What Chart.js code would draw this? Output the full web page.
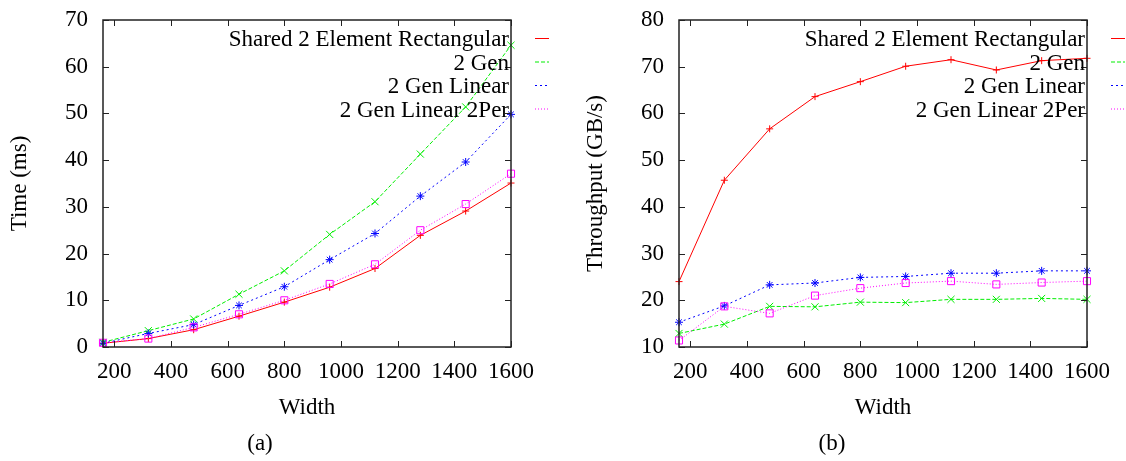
<!DOCTYPE html>
<html>
<head>
<meta charset="utf-8">
<script src="https://cdn.jsdelivr.net/npm/chart.js@4.4.1/dist/chart.umd.min.js"></script>
<style>
  body { margin: 0; background: #fff; }
  #wrap { position: relative; width: 1126px; height: 461px; }
  canvas { position: absolute; top: 0; }
  .cap { position: absolute; top: 430px; width: 100px; text-align: center;
         font: 23px "Liberation Serif", "DejaVu Serif", serif; line-height: 26px; }
</style>
</head>
<body>
<div id="wrap">
  <canvas id="timeChart" width="560" height="461" style="left:0"></canvas>
  <canvas id="tputChart" width="566" height="461" style="left:560px"></canvas>
  <div class="cap" style="left:210px">(a)</div>
  <div class="cap" style="left:782px">(b)</div>
</div>
<script>
var widths = [160, 320, 480, 640, 800, 960, 1120, 1280, 1440, 1600];
var xTickValues = [200, 400, 600, 800, 1000, 1200, 1400, 1600];
var seriesNames = ["Shared 2 Element Rectangular", "2 Gen", "2 Gen Linear", "2 Gen Linear 2Per"];

// (a) time in ms
var timeShared = [0.8, 1.8, 3.7, 6.6, 9.6, 12.8, 16.8, 23.9, 29.1, 35.1];
var time2Gen = [1.0, 3.5, 6.0, 11.3, 16.3, 24.1, 31.1, 41.3, 51.4, 64.6];
var time2GenLinear = [0.8, 2.9, 4.8, 8.9, 12.9, 18.7, 24.3, 32.3, 39.6, 49.8];
var time2GenLinear2Per = [0.9, 1.8, 4.2, 7.0, 10.0, 13.5, 17.7, 25.0, 30.6, 37.1];

// (b) throughput in GB/s
var tputShared = [24.0, 45.7, 56.7, 63.6, 66.8, 70.1, 71.5, 69.3, 71.3, 71.8];
var tput2Gen = [12.9, 14.9, 18.7, 18.6, 19.6, 19.5, 20.2, 20.2, 20.4, 20.2];
var tput2GenLinear = [15.3, 18.8, 23.3, 23.7, 24.9, 25.1, 25.8, 25.8, 26.3, 26.3];
var tput2GenLinear2Per = [11.4, 18.7, 17.2, 21.0, 22.6, 23.7, 24.1, 23.4, 23.8, 24.1];

var timeTicks = [0, 10, 20, 30, 40, 50, 60, 70];
var tputTicks = [10, 20, 30, 40, 50, 60, 70, 80];

var serif = '"Liberation Serif", "DejaVu Serif", serif';

function pts(vals) {
    return vals.map(function(v, i) { return { x: widths[i], y: v }; });
}

function makeSets(a, b, c, d) {
    return [{
        label: seriesNames[0], data: pts(a), borderColor: "#ff0000", borderWidth: 1,
        pointStyle: "cross", pointRadius: 3.5, order: 4
    }, {
        label: seriesNames[1], data: pts(b), borderColor: "#00ee00", borderWidth: 1,
        borderDash: [4, 2], pointStyle: "crossRot", pointRadius: 5, order: 3
    }, {
        label: seriesNames[2], data: pts(c), borderColor: "#0000ff", borderWidth: 1,
        borderDash: [2, 3], pointStyle: "star", pointRadius: 4, order: 2
    }, {
        label: seriesNames[3], data: pts(d), borderColor: "#ff00ff", borderWidth: 1,
        borderDash: [1, 2], pointStyle: "rect", pointRadius: 5, order: 1
    }].map(function(s) {
        s.pointBorderColor = s.borderColor;
        s.pointBackgroundColor = "rgba(0,0,0,0)";
        s.pointBorderWidth = 1;
        s.fill = false;
        s.tension = 0;
        s.clip = 8;
        return s;
    });
}

// gnuplot style box with inward ticks on all four sides
var framePlugin = {
    id: "frame",
    afterDatasetsDraw: function(chart) {
        var ctx = chart.ctx, a = chart.chartArea;
        var xs = chart.scales.x, ys = chart.scales.y;
        ctx.save();
        ctx.strokeStyle = "#222";
        ctx.lineWidth = 1.5;
        ctx.strokeRect(a.left, a.top, a.right - a.left, a.bottom - a.top);
        ctx.lineWidth = 1;
        ctx.beginPath();
        xs.ticks.forEach(function(t) {
            var px = Math.round(xs.getPixelForValue(t.value)) + 0.5;
            ctx.moveTo(px, a.bottom); ctx.lineTo(px, a.bottom - 6);
            ctx.moveTo(px, a.top); ctx.lineTo(px, a.top + 6);
        });
        ys.ticks.forEach(function(t) {
            var py = Math.round(ys.getPixelForValue(t.value)) + 0.5;
            ctx.moveTo(a.left, py); ctx.lineTo(a.left + 6, py);
            ctx.moveTo(a.right, py); ctx.lineTo(a.right - 6, py);
        });
        ctx.stroke();
        ctx.restore();
    }
};

// key in the top right corner, samples sit right of the frame
var keyPlugin = {
    id: "gnuKey",
    afterDraw: function(chart) {
        var ctx = chart.ctx, a = chart.chartArea;
        ctx.save();
        ctx.font = "23px " + serif;
        ctx.textAlign = "right";
        ctx.textBaseline = "middle";
        chart.data.datasets.forEach(function(ds, i) {
            var y = a.top + 20 + i * 23.5;
            ctx.fillStyle = "#000";
            ctx.fillText(ds.label, a.right - 2, y);
            ctx.strokeStyle = ds.borderColor;
            ctx.lineWidth = 1;
            ctx.setLineDash(ds.borderDash || []);
            ctx.beginPath();
            ctx.moveTo(a.right + 24, y - 1.5);
            ctx.lineTo(a.right + 38, y - 1.5);
            ctx.stroke();
        });
        ctx.restore();
    }
};

function plain(v) { return String(v); }

function makeChart(id, sets, yTicks, yTitle, yWidth, yTitlePad, rightPad) {
    return new Chart(document.getElementById(id), {
        type: "line",
        data: { datasets: sets },
        plugins: [framePlugin, keyPlugin],
        options: {
            responsive: false,
            animation: false,
            layout: { padding: { left: 0, top: 20, right: rightPad, bottom: 0 } },
            plugins: { legend: { display: false }, tooltip: { enabled: false } },
            scales: {
                x: {
                    type: "linear", min: 160, max: 1600,
                    grid: { display: false, drawTicks: false },
                    border: { display: false },
                    afterBuildTicks: function(s) { s.ticks = xTickValues.map(function(v) { return { value: v }; }); },
                    afterFit: function(s) { s.height = 114; s.paddingLeft = 0; s.paddingRight = 0; },
                    ticks: { color: "#000", padding: 11, maxRotation: 0, callback: plain,
                             font: { family: serif, size: 23 } },
                    title: { display: true, text: "Width", color: "#000", padding: { top: 0, bottom: 39 },
                             font: { family: serif, size: 23 } }
                },
                y: {
                    type: "linear", min: yTicks[0], max: yTicks[yTicks.length - 1],
                    grid: { display: false, drawTicks: false },
                    border: { display: false },
                    afterBuildTicks: function(s) { s.ticks = yTicks.map(function(v) { return { value: v }; }); },
                    afterFit: function(s) { s.width = yWidth; s.paddingTop = 0; s.paddingBottom = 0; },
                    ticks: { color: "#000", padding: 15, callback: plain, font: { family: serif, size: 23 } },
                    title: { display: true, text: yTitle, color: "#000", padding: { top: yTitlePad, bottom: 0 },
                             font: { family: serif, size: 23 } }
                }
            }
        }
    });
}

makeChart("timeChart", makeSets(timeShared, time2Gen, time2GenLinear, time2GenLinear2Per),
          timeTicks, "Time (ms)", 103, 6, 49);
makeChart("tputChart", makeSets(tputShared, tput2Gen, tput2GenLinear, tput2GenLinear2Per),
          tputTicks, "Throughput (GB/s)", 119, 22, 39);
</script>
</body>
</html>
